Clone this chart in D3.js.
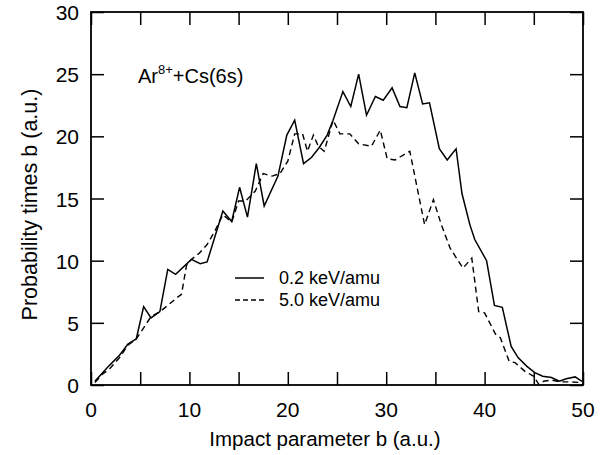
<!DOCTYPE html>
<html><head><meta charset="utf-8">
<script src="https://cdn.jsdelivr.net/npm/d3@7"></script>
<style>body{margin:0;background:#fff;} text{font-family:"Liberation Sans",Arial,sans-serif;fill:#000;}</style>
</head><body><svg id="c" width="613" height="455"></svg>
<script>
const xTicks = [0,10,20,30,40,50];
const yTicks = [0,5,10,15,20,25,30];
const minorX = d3.range(0,51,5);
const seriesNames = ["0.2 keV/amu","5.0 keV/amu"];
const bSolid = [0.4,1.2,1.9,2.9,3.75,4.6,5.35,6.1,7.0,7.8,8.6,10.2,11.1,11.8,13.4,14.3,15.1,15.9,16.8,17.6,19.0,19.9,20.7,21.6,22.4,23.2,24.0,24.6,25.6,26.4,27.2,28.0,28.9,29.7,30.6,31.4,32.1,32.9,33.7,34.4,35.4,36.2,37.1,37.7,38.5,39.0,40.2,41.0,41.8,42.7,43.4,44.3,45.1,45.9,46.8,47.6,48.3,49.2,49.9];
const ySolid = [0.3,1.0,1.6,2.4,3.3,3.7,6.3,5.4,5.9,9.3,8.9,10.1,9.75,9.9,14.0,13.15,15.9,13.5,17.8,14.4,16.8,20.1,21.3,17.8,18.3,19.1,20.1,21.3,23.6,22.4,25.0,21.7,23.2,22.9,23.9,22.4,22.3,25.1,22.6,22.7,19.0,18.1,19.0,15.4,12.9,11.7,10.0,6.4,6.25,3.1,2.2,1.5,1.0,0.7,0.6,0.3,0.5,0.65,0.3];
const bDash = [0.4,1.2,1.9,2.9,3.75,4.6,5.35,6.1,7.0,7.8,8.7,9.2,9.7,10.2,11.0,11.8,12.6,13.4,14.3,15.0,15.7,16.7,17.5,18.4,19.2,20.0,20.7,21.5,22.0,22.6,23.1,23.7,24.6,25.3,26.3,27.2,28.5,29.4,30.1,30.9,32.4,33.9,34.8,35.6,36.5,37.8,38.7,39.4,40.0,41.1,41.6,42.5,43.1,44.1,45.0,45.5,46.0,46.8,47.7,48.7,49.7];
const yDash = [0.2,0.9,1.3,2.2,3.2,3.7,4.6,5.5,5.9,6.4,7.0,7.3,9.6,10.1,10.6,11.3,12.4,13.7,13.1,14.8,14.8,15.6,17.0,16.8,17.0,18.0,20.2,20.2,18.8,20.1,19.2,18.8,21.3,20.2,20.2,19.4,19.2,20.5,18.2,18.1,18.8,12.9,14.9,12.9,11.0,9.4,10.2,5.9,5.8,4.1,3.8,1.9,1.8,1.1,0.7,0.05,0.3,0.4,0.25,0.25,0.2];

const svg = d3.select("#c");
const L=91,R=583,T=12,B=385;
const x = d3.scaleLinear().domain([0,50]).range([L,R]);
const y = d3.scaleLinear().domain([0,30]).range([B,T]);
const tl = 13;

const line = d3.line().x(d=>x(d[0])).y(d=>y(d[1]));
svg.append("path").datum(d3.zip(bSolid,ySolid)).attr("d",line)
  .attr("fill","none").attr("stroke","#000").attr("stroke-width",1.5);
svg.append("path").datum(d3.zip(bDash,yDash)).attr("d",line)
  .attr("fill","none").attr("stroke","#000").attr("stroke-width",1.4).attr("stroke-dasharray","6,4");

const ax = g=>g.selectAll(".domain").remove();
svg.append("g").attr("transform",`translate(0,${B})`)
  .call(d3.axisBottom(x).tickValues(minorX).tickSize(-tl).tickFormat(""))
  .call(ax).selectAll("line").attr("stroke-width",1.5);
svg.append("g").attr("transform",`translate(0,${T})`)
  .call(d3.axisTop(x).tickValues(minorX).tickSize(-tl).tickFormat(""))
  .call(ax).selectAll("line").attr("stroke-width",1.5);
svg.append("g").attr("transform",`translate(${L},0)`)
  .call(d3.axisLeft(y).tickValues(yTicks).tickSize(-tl).tickFormat(""))
  .call(ax).selectAll("line").attr("stroke-width",1.5);
svg.append("g").attr("transform",`translate(${R},0)`)
  .call(d3.axisRight(y).tickValues(yTicks).tickSize(-tl).tickFormat(""))
  .call(ax).selectAll("line").attr("stroke-width",1.5);

svg.append("rect").attr("x",L).attr("y",T).attr("width",R-L).attr("height",B-T)
  .attr("fill","none").attr("stroke","#000").attr("stroke-width",1.8);

svg.append("g").selectAll("text").data(xTicks).join("text")
  .attr("x",d=>x(d)).attr("y",B+32).attr("text-anchor","middle")
  .attr("font-size",21).text(d=>d);
svg.append("g").selectAll("text").data(yTicks).join("text")
  .attr("x",L-12).attr("y",d=>y(d)+8).attr("text-anchor","end")
  .attr("font-size",21).text(d=>d);

svg.append("text").attr("x",(L+R)/2-12).attr("y",446).attr("text-anchor","middle")
  .attr("font-size",20.5).text("Impact parameter b (a.u.)");
svg.append("text").attr("transform",`translate(37,${(T+B)/2+6}) rotate(-90)`)
  .attr("text-anchor","middle").attr("font-size",21.5).text("Probability times b (a.u.)");

const t = svg.append("text").attr("x",138).attr("y",83).attr("font-size",20);
t.append("tspan").text("Ar");
t.append("tspan").attr("dy",-9).attr("font-size",13).text("8+");
t.append("tspan").attr("dy",9).text("+Cs(6s)");

const lg = svg.append("g");
seriesNames.forEach((n,i)=>{
  const yy = 278 + i*22;
  lg.append("line").attr("x1",235).attr("x2",264).attr("y1",yy).attr("y2",yy)
    .attr("stroke","#000").attr("stroke-width",1.5).attr("stroke-dasharray",i?"5,3":null);
  lg.append("text").attr("x",279).attr("y",yy+6).attr("font-size",18).text(n);
});
</script></body></html>
